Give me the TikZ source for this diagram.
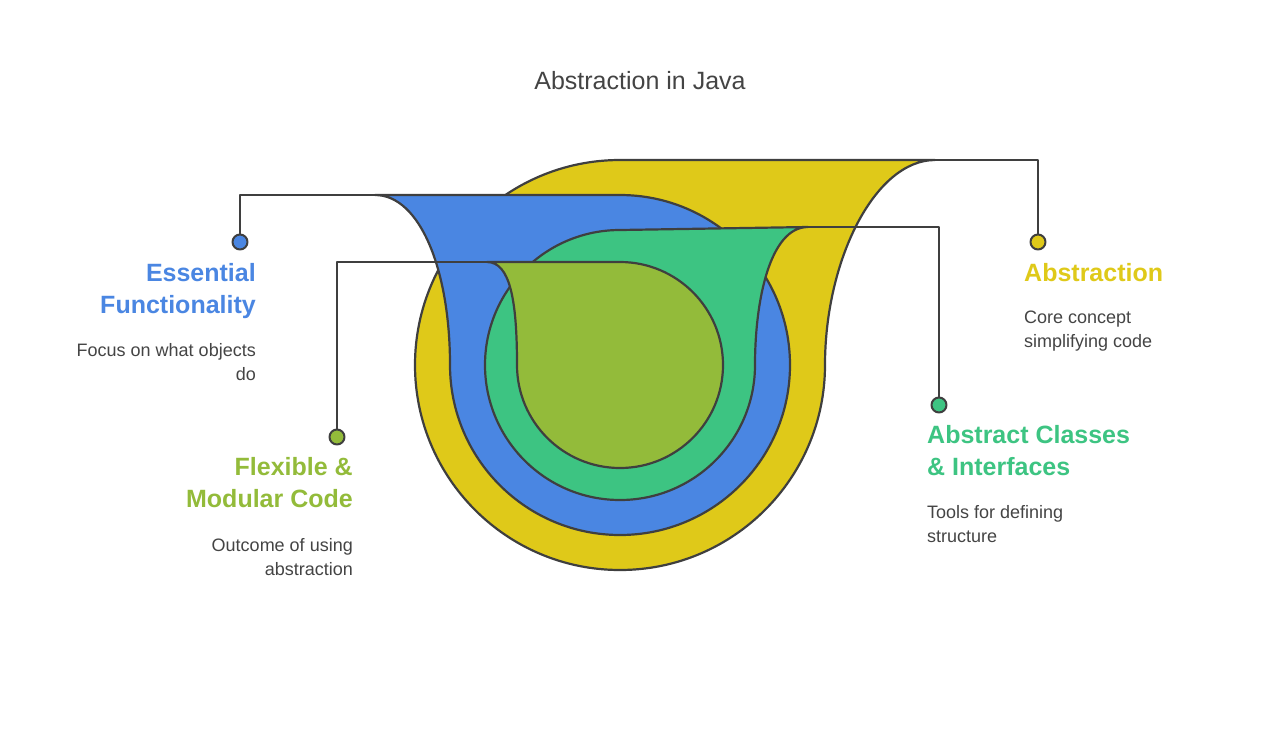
\documentclass[tikz,border=0pt]{standalone}
\usepackage{fontspec}
\setmainfont{Liberation Sans}
\definecolor{cYel}{HTML}{DFC919}
\definecolor{cBlue}{HTML}{4A86E2}
\definecolor{cGreen}{HTML}{3DC482}
\definecolor{cOlive}{HTML}{93BB3A}
\definecolor{cLine}{HTML}{3F3F3F}
\definecolor{cText}{HTML}{444444}
\begin{document}
\begin{tikzpicture}[x=1pt,y=-1pt,line join=round]
        \tikzstyle{funnel}=[draw=cLine,line width=2.2pt]
        \tikzstyle{edge}=[draw=cLine,line width=2.2pt]
        \tikzstyle{dot}=[circle,draw=cLine,line width=2pt,minimum size=15pt,inner sep=0pt]
        \tikzstyle{head}=[inner sep=0pt,font=\bfseries\fontsize{25}{32}\selectfont]
        \tikzstyle{body}=[inner sep=0pt,text=cText,font=\fontsize{18}{24}\selectfont]
        \useasboundingbox (0,0) rectangle (1280,729);
        \node [text=cText,font=\fontsize{25}{30}\selectfont] (title) at (640,81) {Abstraction in Java};
        % nested funnels
        \path[funnel,fill=cYel] (620,160) -- (935,160) .. controls (875,160) and (825,260) .. (825,365)
            arc[start angle=0,end angle=270,radius=205] -- cycle;
        \path[funnel,fill=cBlue] (620,195) arc[start angle=-90,end angle=180,radius=170]
            .. controls (450,270) and (420,195) .. (375,195) -- cycle;
        \path[funnel,fill=cGreen] (620,230) -- (808,227) .. controls (770,227) and (755,300) .. (755,365)
            arc[start angle=0,end angle=270,radius=135] -- cycle;
        \path[funnel,fill=cOlive] (620,262) arc[start angle=-90,end angle=180,radius=103]
            .. controls (517,300) and (510,262) .. (487,262) -- cycle;
        \coordinate (yTop) at (935,160);
        \coordinate (bTop) at (375,195);
        \coordinate (gTop) at (808,227);
        \coordinate (oTop) at (487,262);
        % dots and connectors
        \node [dot,fill=cBlue] (bDot) at (240,242) {};
        \node [dot,fill=cYel] (yDot) at (1038,242) {};
        \node [dot,fill=cGreen] (gDot) at (939,405) {};
        \node [dot,fill=cOlive] (oDot) at (337,437) {};
        \path[edge] (bDot) |- (bTop);
        \path[edge] (yDot) |- (yTop);
        \path[edge] (gDot) |- (gTop);
        \path[edge] (oDot) |- (oTop);
        % labels
        \node [head,text=cBlue,align=right,anchor=north east] (bHead) at (256,263) {Essential\\Functionality};
        \node [body,align=right,anchor=north east] (bBody) at (256,343) {Focus on what objects\\do};
        \node [head,text=cYel,align=left,anchor=north west] (yHead) at (1024,263) {Abstraction};
        \node [body,align=left,anchor=north west] (yBody) at (1024,311) {Core concept\\simplifying code};
        \node [head,text=cGreen,align=left,anchor=north west] (gHead) at (927,425) {Abstract Classes\\\& Interfaces};
        \node [body,align=left,anchor=north west] (gBody) at (927,505) {Tools for defining\\structure};
        \node [head,text=cOlive,align=right,anchor=north east] (oHead) at (353,457) {Flexible \&\\Modular Code};
        \node [body,align=right,anchor=north east] (oBody) at (353,538) {Outcome of using\\abstraction};
\end{tikzpicture}
\end{document}
